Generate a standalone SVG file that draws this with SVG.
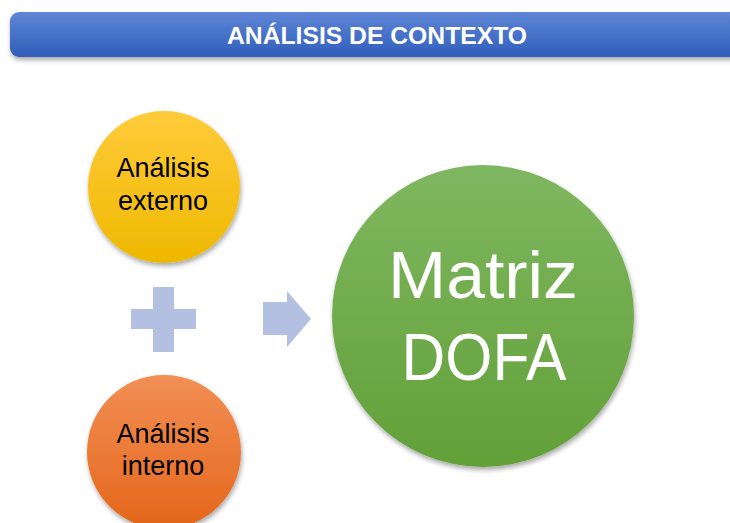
<svg xmlns="http://www.w3.org/2000/svg" width="730" height="523" viewBox="0 0 730 523">
<defs>
<linearGradient id="gHead" x1="0" y1="0" x2="0" y2="1"><stop offset="0" stop-color="#5f86d6"/><stop offset="1" stop-color="#2f5eba"/></linearGradient>
<linearGradient id="gY" x1="0" y1="0" x2="0" y2="1"><stop offset="0" stop-color="#ffcb3a"/><stop offset="1" stop-color="#eeb800"/></linearGradient>
<linearGradient id="gO" x1="0" y1="0" x2="0" y2="1"><stop offset="0" stop-color="#f28f55"/><stop offset="1" stop-color="#e4661a"/></linearGradient>
<linearGradient id="gG" x1="0" y1="0" x2="0" y2="1"><stop offset="0" stop-color="#7fb760"/><stop offset="1" stop-color="#62a038"/></linearGradient>
<filter id="sh" x="-20%" y="-20%" width="140%" height="140%"><feDropShadow dx="1" dy="3" stdDeviation="2.5" flood-color="#000" flood-opacity="0.35"/></filter>
</defs>
<style>
.lbl{font-family:"Liberation Sans",Arial,sans-serif;text-anchor:middle}
.sm{font-size:27px;fill:#000}
.big{font-size:66px;fill:#fff}
.head{font-family:"Liberation Sans",Arial,sans-serif;font-size:24px;font-weight:bold;fill:#fff;text-anchor:middle}
.conn{fill:#b3c0e2}
</style>
<rect width="730" height="523" fill="#fff"/>
<g id="header">
<rect x="10" y="12" width="740" height="45" rx="9" fill="url(#gHead)" filter="url(#sh)"/>
<text class="head" x="377" y="44" textLength="300" lengthAdjust="spacingAndGlyphs">ANÁLISIS DE CONTEXTO</text>
</g>
<g id="externo">
<circle cx="164" cy="187" r="76" fill="url(#gY)" filter="url(#sh)"/>
<text class="lbl sm" x="163" y="177">Análisis</text>
<text class="lbl sm" x="163" y="210">externo</text>
</g>
<g id="interno">
<circle cx="164" cy="452" r="77" fill="url(#gO)" filter="url(#sh)"/>
<text class="lbl sm" x="163" y="443">Análisis</text>
<text class="lbl sm" x="163" y="475">interno</text>
</g>
<g id="dofa">
<circle cx="483" cy="316" r="151" fill="url(#gG)" filter="url(#sh)"/>
<text class="lbl big" x="483" y="298" textLength="190" lengthAdjust="spacingAndGlyphs">Matriz</text>
<text class="lbl big" x="484" y="380" textLength="165" lengthAdjust="spacingAndGlyphs">DOFA</text>
</g>
<g id="connectors">
<path class="conn" d="M153 287H174V309H196V329H174V352H153V329H131V309H153Z"/>
<path class="conn" d="M263 302H287V291L311 319L287 347V335H263Z"/>
</g>
</svg>
